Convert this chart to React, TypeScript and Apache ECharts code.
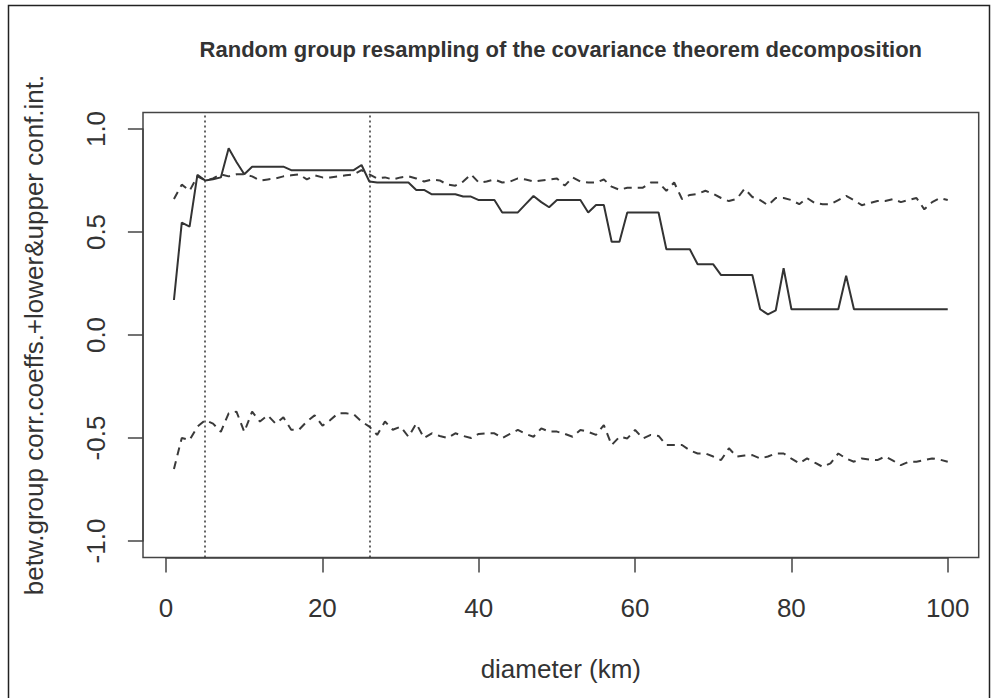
import React, { useEffect, useRef } from "react";
import * as echarts from "echarts";

const diameters: number[] = Array.from({ length: 100 }, (_, i) => i + 1);

const corrCoef: number[] = [
  0.17, 0.545, 0.526, 0.777, 0.75, 0.756, 0.765, 0.906, 0.84, 0.78,
  0.817, 0.817, 0.817, 0.817, 0.817, 0.8, 0.8, 0.8, 0.8, 0.8,
  0.8, 0.8, 0.8, 0.8, 0.825, 0.745, 0.74, 0.74, 0.74, 0.74,
  0.74, 0.704, 0.704, 0.683, 0.683, 0.683, 0.683, 0.672, 0.672, 0.655,
  0.655, 0.655, 0.595, 0.595, 0.595, 0.635, 0.675, 0.645, 0.62, 0.655,
  0.655, 0.655, 0.655, 0.595, 0.631, 0.631, 0.453, 0.453, 0.595, 0.595,
  0.595, 0.595, 0.595, 0.416, 0.416, 0.416, 0.416, 0.343, 0.343, 0.343,
  0.291, 0.291, 0.291, 0.291, 0.291, 0.125, 0.1, 0.12, 0.324, 0.125,
  0.125, 0.125, 0.125, 0.125, 0.125, 0.125, 0.288, 0.125, 0.125, 0.125,
  0.125, 0.125, 0.125, 0.125, 0.125, 0.125, 0.125, 0.125, 0.125, 0.125,
];

const upperCI: number[] = [
  0.66, 0.73, 0.7, 0.77, 0.75, 0.76, 0.78, 0.77, 0.78, 0.78,
  0.77, 0.75, 0.755, 0.76, 0.77, 0.775, 0.78, 0.755, 0.775, 0.765,
  0.765, 0.77, 0.775, 0.78, 0.8, 0.78, 0.76, 0.765, 0.755, 0.765,
  0.77, 0.76, 0.745, 0.755, 0.75, 0.73, 0.725, 0.745, 0.78, 0.74,
  0.745, 0.755, 0.74, 0.745, 0.76, 0.755, 0.745, 0.75, 0.755, 0.76,
  0.725, 0.765, 0.745, 0.74, 0.74, 0.755, 0.72, 0.705, 0.715, 0.715,
  0.715, 0.74, 0.74, 0.7, 0.74, 0.66, 0.68, 0.685, 0.7, 0.685,
  0.665, 0.65, 0.66, 0.71, 0.67, 0.655, 0.63, 0.665, 0.665, 0.655,
  0.635, 0.665, 0.64, 0.635, 0.635, 0.655, 0.675, 0.655, 0.63, 0.64,
  0.65, 0.65, 0.66, 0.645, 0.655, 0.665, 0.61, 0.645, 0.665, 0.655,
];

const lowerCI: number[] = [
  -0.65, -0.5, -0.51, -0.445, -0.413, -0.43, -0.47, -0.38, -0.372, -0.47,
  -0.372, -0.42, -0.39, -0.43, -0.4, -0.46, -0.46, -0.42, -0.39, -0.44,
  -0.413, -0.38, -0.38, -0.385, -0.42, -0.445, -0.485, -0.42, -0.46, -0.445,
  -0.494, -0.43, -0.5, -0.477, -0.49, -0.5, -0.477, -0.49, -0.5, -0.48,
  -0.477, -0.477, -0.5, -0.48, -0.461, -0.48, -0.494, -0.453, -0.469, -0.469,
  -0.48, -0.494, -0.461, -0.47, -0.485, -0.437, -0.534, -0.494, -0.502, -0.461,
  -0.502, -0.485, -0.49, -0.534, -0.534, -0.534, -0.56, -0.575, -0.575, -0.59,
  -0.607, -0.55, -0.59, -0.585, -0.583, -0.599, -0.59, -0.575, -0.575, -0.6,
  -0.623, -0.599, -0.62, -0.64, -0.623, -0.575, -0.6, -0.615, -0.599, -0.605,
  -0.607, -0.59, -0.61, -0.632, -0.615, -0.615, -0.607, -0.599, -0.605, -0.615,
];

const cutoffs: number[] = [5, 26];

const xTicks = { min: 0, max: 100, interval: 20 };
const yTicks = { min: -1, max: 1, interval: 0.5 };

const TITLE = "Random group resampling of the covariance theorem decomposition";
const X_LABEL = "diameter (km)";
const Y_LABEL = "betw.group corr.coeffs.+lower&upper conf.int.";

const FONT = "'Liberation Sans', Arial, Helvetica, sans-serif";
const INK = "#333333";

export default function App() {
  const ref = useRef<HTMLDivElement>(null);

  useEffect(() => {
    if (!ref.current) return;
    const chart = echarts.init(ref.current, null, { renderer: "svg" });

    const pairs = (ys: number[]) => diameters.map((x, i) => [x, ys[i]]);
    const lineBase = {
      type: "line" as const,
      xAxisIndex: 0,
      yAxisIndex: 0,
      showSymbol: false,
      symbol: "none",
      silent: true,
    };

    chart.setOption({
      animation: false,
      backgroundColor: "#ffffff",
      grid: [
        {
          left: 143,
          right: 12.3,
          top: 112.5,
          bottom: 140.5,
          show: true,
          borderColor: "#444444",
          borderWidth: 1.5,
          backgroundColor: "transparent",
        },
        { left: 166, right: 43.3, top: 129, bottom: 157 },
      ],
      xAxis: [
        {
          gridIndex: 0,
          type: "value",
          min: -2.96,
          max: 103.96,
          axisLine: { show: false },
          axisTick: { show: false },
          axisLabel: { show: false },
          splitLine: { show: false },
        },
        {
          gridIndex: 1,
          type: "value",
          position: "bottom",
          min: xTicks.min,
          max: xTicks.max,
          interval: xTicks.interval,
          offset: 16.5,
          axisLine: { show: true, onZero: false, lineStyle: { color: "#444444", width: 1.5 } },
          axisTick: { show: true, length: 15, lineStyle: { color: "#444444", width: 1.5 } },
          axisLabel: { fontSize: 26, color: INK, fontFamily: FONT, margin: 37 },
          splitLine: { show: false },
        },
      ],
      yAxis: [
        {
          gridIndex: 0,
          type: "value",
          min: -1.08,
          max: 1.08,
          axisLine: { show: false },
          axisTick: { show: false },
          axisLabel: { show: false },
          splitLine: { show: false },
        },
        {
          gridIndex: 1,
          type: "value",
          position: "left",
          min: yTicks.min,
          max: yTicks.max,
          interval: yTicks.interval,
          offset: 23.1,
          axisLine: { show: true, onZero: false, lineStyle: { color: "#444444", width: 1.5 } },
          axisTick: { show: true, length: 15, lineStyle: { color: "#444444", width: 1.5 } },
          axisLabel: {
            fontSize: 26,
            color: INK,
            fontFamily: FONT,
            rotate: 90,
            margin: 34,
            formatter: (v: number) => v.toFixed(1),
          },
          splitLine: { show: false },
        },
      ],
      series: [
        {
          ...lineBase,
          name: "upper",
          data: pairs(upperCI),
          lineStyle: { color: "#3a3a3a", width: 2, type: [8, 6] },
        },
        {
          ...lineBase,
          name: "lower",
          data: pairs(lowerCI),
          lineStyle: { color: "#3a3a3a", width: 2, type: [8, 6] },
        },
        {
          ...lineBase,
          name: "coef",
          data: pairs(corrCoef),
          lineStyle: { color: "#333333", width: 2 },
          markLine: {
            silent: true,
            symbol: ["none", "none"],
            label: { show: false },
            lineStyle: { color: "#333333", width: 1.5, type: [2, 3] },
            data: cutoffs.map((c) => ({ xAxis: c })),
          },
        },
      ],
      graphic: [
        {
          type: "rect",
          shape: { x: 8.5, y: 5.5, width: 981, height: 720 },
          style: { fill: "none", stroke: "#222222", lineWidth: 1.5 },
          silent: true,
        },
        {
          type: "text",
          x: 560.8,
          y: 49,
          style: {
            text: TITLE,
            font: `bold 22px ${FONT}`,
            fill: INK,
            align: "center",
            verticalAlign: "middle",
          },
        },
        {
          type: "text",
          x: 560.8,
          y: 669,
          style: {
            text: X_LABEL,
            font: `26px ${FONT}`,
            fill: INK,
            align: "center",
            verticalAlign: "middle",
          },
        },
        {
          type: "text",
          x: 34,
          y: 335,
          rotation: Math.PI / 2,
          style: {
            text: Y_LABEL,
            font: `26px ${FONT}`,
            fill: INK,
            align: "center",
            verticalAlign: "middle",
          },
        },
      ],
    });

    return () => chart.dispose();
  }, []);

  return (
    <div
      ref={ref}
      style={{ position: "absolute", left: 0, top: 0, width: 991, height: 698 }}
    />
  );
}
